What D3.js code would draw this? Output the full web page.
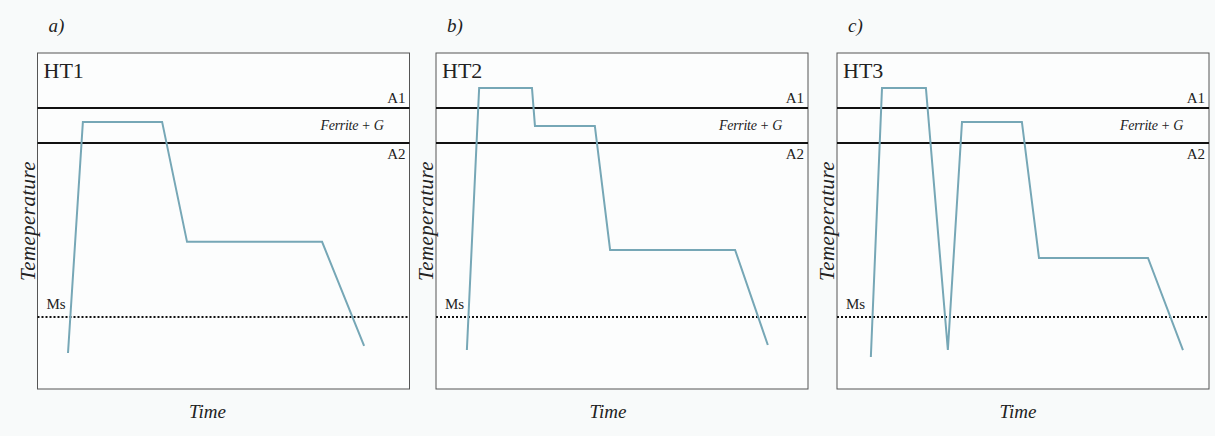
<!DOCTYPE html>
<html>
<head>
<meta charset="utf-8">
<script src="https://cdn.jsdelivr.net/npm/d3@7"></script>
<style>
  body { margin: 0; background: #f8fafa; }
  svg { display: block; }
  text { font-family: "Liberation Serif", "DejaVu Serif", serif; fill: #222; }
</style>
</head>
<body>
<svg id="chart" width="1215" height="436"></svg>
<script>
// Panel names and letters
const panelLetters = ["a)", "b)", "c)"];
const panelTitles = ["HT1", "HT2", "HT3"];

// Critical temperatures (arbitrary units, 0 = bottom of box, 100 = top)
const levelA1 = 83.6;
const levelA2 = 73.2;
const levelMs = 21.4;

// Heat treatment paths: time (0-100), temperature (0-100)
const timeHT1 = [8.2, 12.2, 33.5, 40.2, 76.5, 87.8];
const tempHT1 = [10.7, 79.5, 79.5, 43.8, 43.8, 12.8];

const timeHT2 = [8.3, 11.6, 25.8, 26.6, 42.7, 46.8, 80.4, 89.2];
const tempHT2 = [11.6, 89.6, 89.6, 78.3, 78.3, 41.4, 41.4, 13.1];

const timeHT3 = [9.1, 12.1, 23.9, 29.8, 33.6, 49.7, 54.3, 83.6, 93.0];
const tempHT3 = [9.5, 89.6, 89.6, 11.6, 79.5, 79.5, 39.0, 39.0, 11.6];

const pathTimes = [timeHT1, timeHT2, timeHT3];
const pathTemps = [tempHT1, tempHT2, tempHT3];

// Layout
const panelLefts = [37.5, 436, 837];
const boxWidth = 372;
const boxTop = 53;
const boxBottom = 389;
const timeLabelShift = [-16, -14, -5];

const svg = d3.select("#chart");

const y = d3.scaleLinear()
    .domain([0, 100])
    .range([boxBottom, boxTop]);

panelLefts.forEach((left, i) => {
    const x = d3.scaleLinear()
        .domain([0, 100])
        .range([left, left + boxWidth]);

    const g = svg.append("g");

    // Frame
    g.append("rect")
        .attr("x", x(0))
        .attr("y", y(100))
        .attr("width", x(100) - x(0))
        .attr("height", y(0) - y(100))
        .attr("fill", "#fcfdfd")
        .attr("stroke", "#555")
        .attr("stroke-width", 1);

    // A1 / A2 lines
    [levelA1, levelA2].forEach(level => {
        g.append("line")
            .attr("x1", x(0))
            .attr("x2", x(100))
            .attr("y1", y(level))
            .attr("y2", y(level))
            .attr("stroke", "#111")
            .attr("stroke-width", 2);
    });

    // Ms dotted line
    g.append("line")
        .attr("x1", x(0))
        .attr("x2", x(100))
        .attr("y1", y(levelMs))
        .attr("y2", y(levelMs))
        .attr("stroke", "#111")
        .attr("stroke-width", 2)
        .attr("stroke-dasharray", "2,2");

    // Labels inside the box
    g.append("text")
        .attr("x", x(0) + 6)
        .attr("y", y(100) + 25)
        .attr("font-size", 22)
        .text(panelTitles[i]);

    g.append("text")
        .attr("x", x(100) - 4)
        .attr("y", y(levelA1) - 5)
        .attr("text-anchor", "end")
        .attr("font-size", 15)
        .attr("fill", "#333")
        .text("A1");

    g.append("text")
        .attr("x", x(100) - 4)
        .attr("y", y(levelA2) + 16)
        .attr("text-anchor", "end")
        .attr("font-size", 15)
        .attr("fill", "#333")
        .text("A2");

    g.append("text")
        .attr("x", x(93))
        .attr("y", y((levelA1 + levelA2) / 2) + 4)
        .attr("text-anchor", "end")
        .attr("font-size", 14)
        .attr("font-style", "italic")
        .attr("fill", "#333")
        .attr("letter-spacing", -0.3)
        .text("Ferrite + G");

    g.append("text")
        .attr("x", x(0) + 9)
        .attr("y", y(levelMs) - 8)
        .attr("font-size", 15)
        .attr("fill", "#333")
        .text("Ms");

    // Panel letter
    g.append("text")
        .attr("x", x(0) + 11)
        .attr("y", 32)
        .attr("font-size", 19)
        .attr("font-style", "italic")
        .text(panelLetters[i]);

    // Axis titles
    g.append("text")
        .attr("x", (x(0) + x(100)) / 2 + timeLabelShift[i])
        .attr("y", 418)
        .attr("text-anchor", "middle")
        .attr("font-size", 19)
        .attr("font-style", "italic")
        .text("Time");

    g.append("text")
        .attr("transform", `translate(${x(0) - 3}, ${y(50)}) rotate(-90)`)
        .attr("text-anchor", "middle")
        .attr("font-size", 21)
        .attr("font-style", "italic")
        .attr("letter-spacing", 0.4)
        .text("Temeperature");

    // Heat treatment path
    const points = pathTimes[i].map((t, k) => [t, pathTemps[i][k]]);
    const line = d3.line()
        .x(d => x(d[0]))
        .y(d => y(d[1]));

    g.append("path")
        .attr("d", line(points))
        .attr("fill", "none")
        .attr("stroke", "#76a7b6")
        .attr("stroke-width", 2)
        .attr("stroke-linejoin", "miter");
});
</script>
</body>
</html>
